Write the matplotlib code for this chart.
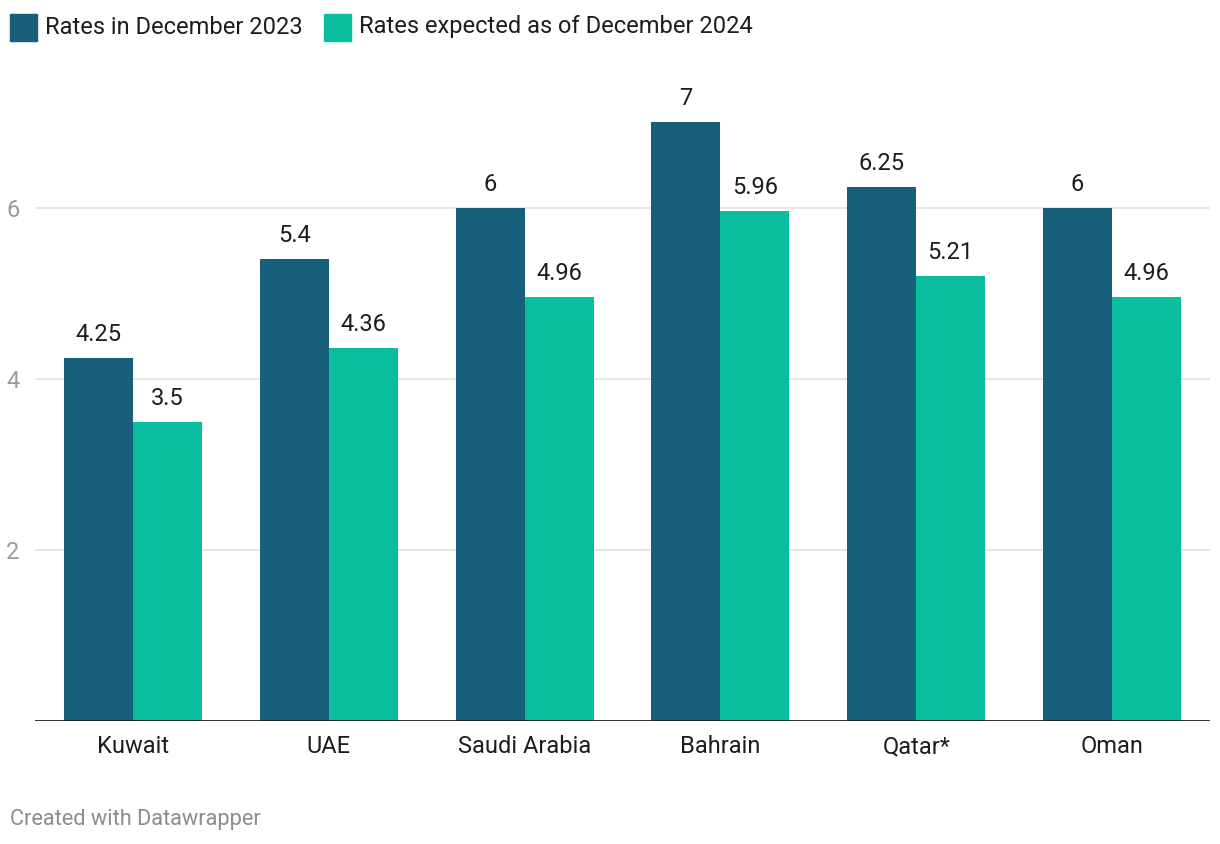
import numpy as np
import matplotlib.pyplot as plt
from matplotlib.patches import Rectangle

plt.rcParams['font.family'] = ['Roboto', 'DejaVu Sans']

countries = ['Kuwait', 'UAE', 'Saudi Arabia', 'Bahrain', 'Qatar*', 'Oman']
rates_2023 = [4.25, 5.4, 6, 7, 6.25, 6]
rates_2024 = [3.5, 4.36, 4.96, 5.96, 5.21, 4.96]
labels_2023 = ['4.25', '5.4', '6', '7', '6.25', '6']
labels_2024 = ['3.5', '4.36', '4.96', '5.96', '5.21', '4.96']
series_names = ['Rates in December 2023', 'Rates expected as of December 2024']
y_ticks = [2, 4, 6]

dark = '#175f7a'
teal = '#0bbd9f'
fs = 17

W, H = 1220, 844
fig = plt.figure(figsize=(W / 100, H / 100), dpi=100)
px = 85.5  # pixels per unit
ax = fig.add_axes([35 / W, (H - 721) / H, 1175 / W, 8 * px / H])
ax.set_xlim(-0.5, 5.5)
ax.set_ylim(0, 8)

x = np.arange(len(countries))
w = 69 / 196
ax.bar(x - w / 2, rates_2023, width=w, color=dark, zorder=2)
ax.bar(x + w / 2, rates_2024, width=w, color=teal, zorder=2)

for xi, v, s in zip(x, rates_2023, labels_2023):
    ax.annotate(s, (xi - w / 2, v), xytext=(0, 12), textcoords='offset pixels',
                ha='center', va='bottom', fontsize=fs, color='#1d1d1d')
for xi, v, s in zip(x, rates_2024, labels_2024):
    ax.annotate(s, (xi + w / 2, v), xytext=(0, 12), textcoords='offset pixels',
                ha='center', va='bottom', fontsize=fs, color='#1d1d1d')

for t in y_ticks:
    ax.axhline(t, color='#e2e2e2', lw=1.2, zorder=1)
ax.axhline(0, color='#1d1d1d', lw=2, zorder=3)

ax.set_yticks(y_ticks)
ax.set_yticklabels([str(t) for t in y_ticks], fontsize=fs, color='#9a9a9a')
ax.set_xticks(x)
ax.set_xticklabels(countries, fontsize=fs, color='#1d1d1d')
ax.tick_params(axis='y', length=0, pad=11)
ax.tick_params(axis='x', length=0, pad=10)
for sp in ax.spines.values():
    sp.set_visible(False)

# legend
for (x0, name, c) in [(10, series_names[0], dark), (324, series_names[1], teal)]:
    fig.patches.append(Rectangle((x0 / W, (H - 41) / H), 27 / W, 27 / H,
                                 transform=fig.transFigure, color=c))
    fig.text((x0 + 35) / W, (H - 27) / H, name, fontsize=fs, color='#1d1d1d',
             va='center', ha='left')

fig.text(10 / W, (H - 820) / H, 'Created with Datawrapper', fontsize=15.7,
         color='#8c8c8c', va='center', ha='left')

fig.savefig('out.png', dpi=100)
